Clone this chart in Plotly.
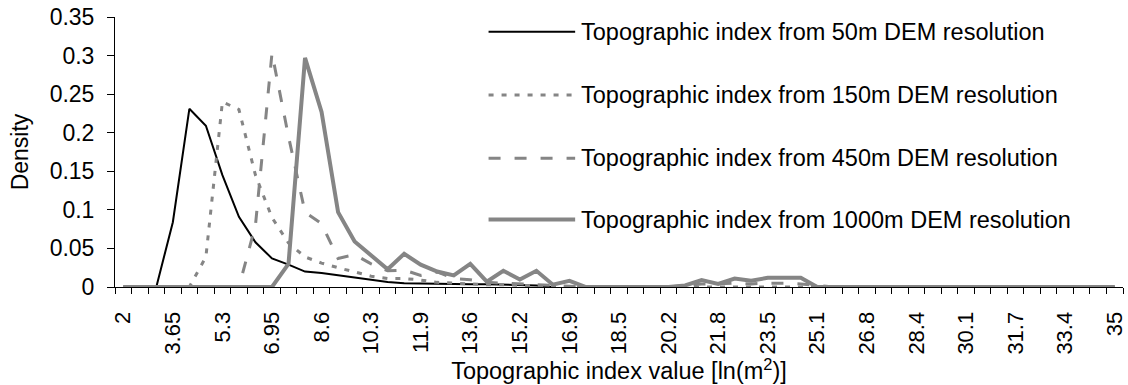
import plotly.graph_objects as go

# Topographic index bins (category values along the x axis)
ti_values = [2, 2.55, 3.1, 3.65, 4.2, 4.75, 5.3, 5.85, 6.4, 6.95,
             7.5, 8.05, 8.6, 9.15, 9.7, 10.25, 10.8, 11.35, 11.9, 12.45,
             13, 13.55, 14.1, 14.65, 15.2, 15.75, 16.3, 16.85, 17.4, 17.95,
             18.5, 19.05, 19.6, 20.15, 20.7, 21.25, 21.8, 22.35, 22.9, 23.45,
             24, 24.55, 25.1, 25.65, 26.2, 26.75, 27.3, 27.85, 28.4, 28.95,
             29.5, 30.05, 30.6, 31.15, 31.7, 32.25, 32.8, 33.35, 33.9, 34.45,
             35]

tick_labels = ["2", "3.65", "5.3", "6.95", "8.6", "10.3", "11.9", "13.6", "15.2",
               "16.9", "18.5", "20.2", "21.8", "23.5", "25.1", "26.8", "28.4",
               "30.1", "31.7", "33.4", "35"]

# Density of the topographic index for each DEM resolution
density_50m = [None, None, 0, 0.084, 0.231, 0.209, 0.145, 0.091, 0.058, 0.037,
               0.029, 0.020, 0.018, 0.015, 0.012, 0.009, 0.0065, 0.005, 0.0045, 0.004,
               0.004, 0.0035, 0.0035, 0.003, 0.003, 0.002, 0, None, None, None,
               None, None, None, None, None, None, None, None, None, None,
               None, None, None, None, None, None, None, None, None, None,
               None, None, None, None, None, None, None, None, None, None,
               None]

density_150m = [0, 0, 0, 0, 0, 0.039, 0.240, 0.230, 0.145, 0.090,
                0.057, 0.039, 0.031, 0.025, 0.019, 0.014, 0.011, 0.011, 0.009, 0.006,
                0.005, 0.004, 0.003, 0.003, 0.002, 0.002, 0.001, 0, 0, 0,
                0, 0, 0, 0, 0, 0, 0, 0, 0, 0,
                0, 0, 0, 0, 0, 0, 0, 0, 0, 0,
                0, 0, 0, 0, 0, 0, 0, 0, 0, 0,
                0]

density_450m = [0, 0, 0, 0, 0, 0, 0, 0, 0.080, 0.303,
                0.195, 0.097, 0.082, 0.037, 0.042, 0.030, 0.021, 0.022, 0.015, 0.0195,
                0.011, 0.0095, 0.006, 0.005, 0.004, 0.003, 0.002, 0.001, 0, 0,
                0, 0, 0, 0, 0.002, 0.004, 0.004, 0.005, 0.004, 0.005,
                0.005, 0.004, 0.002, 0, 0, 0, 0, 0, 0, 0,
                0, 0, 0, 0, 0, 0, 0, 0, 0, 0,
                0]

density_1000m = [0, 0, 0, 0, 0, 0, 0, 0, 0, 0,
                 0.030, 0.297, 0.227, 0.097, 0.059, 0.041, 0.023, 0.043, 0.029, 0.020,
                 0.015, 0.030, 0.007, 0.021, 0.0096, 0.021, 0.003, 0.008, 0, 0,
                 0, 0, 0, 0, 0.002, 0.009, 0.004, 0.011, 0.008, 0.012,
                 0.012, 0.012, 0, 0, 0, 0, 0, 0, 0, 0,
                 0, 0, 0, 0, 0, 0, 0, 0, 0, 0,
                 0]

series_names = ["Topographic index from 50m DEM resolution",
                "Topographic index from 150m DEM resolution",
                "Topographic index from 450m DEM resolution",
                "Topographic index from 1000m DEM resolution"]

FONT = "Liberation Sans, Arial, sans-serif"
GRAY = "#858585"

styles = [
    dict(color="black", width=2, dash="solid"),
    dict(color=GRAY, width=3, dash="5px,8px"),
    dict(color=GRAY, width=3, dash="12px,14px"),
    dict(color=GRAY, width=4, dash="solid"),
]

fig = go.Figure()
for name, ys, st in zip(series_names,
                        [density_50m, density_150m, density_450m, density_1000m],
                        styles):
    fig.add_trace(go.Scatter(x=ti_values, y=ys, mode="lines", name=name,
                             line=st, connectgaps=False, showlegend=False))

# Hand-drawn legend block with long line samples
legend_rows_y = [0.9456, 0.7111, 0.4767, 0.25]
for name, st, yy in zip(series_names, styles, legend_rows_y):
    fig.add_shape(type="line", xref="paper", yref="paper",
                  x0=0.3706, x1=0.4565, y0=yy, y1=yy,
                  line=dict(color=st["color"], width=st["width"], dash=st["dash"]))
    fig.add_annotation(xref="paper", yref="paper", x=0.4605, y=yy,
                       xanchor="left", yanchor="middle", showarrow=False,
                       text=name, font=dict(family=FONT, size=23.5, color="black"))

step = ti_values[1] - ti_values[0]
fig.update_xaxes(
    range=[ti_values[0] - step / 2, ti_values[-1] + step / 2],
    tickmode="array", tickvals=ti_values[::3], ticktext=tick_labels,
    tickangle=-90, ticks="", ticklabelstandoff=15, ticklabeloverflow="allow",
    tickfont=dict(family=FONT, size=22, color="black"),
    minor=dict(ticks="outside", ticklen=6, tickcolor="black", tickwidth=1,
               tick0=ti_values[0] - step / 2, dtick=step, showgrid=False),
    showline=True, linecolor="black", linewidth=1,
    showgrid=False, zeroline=False,
    title=dict(text="Topographic index value [ln(m<sup>2</sup>)]",
               font=dict(family=FONT, size=23.5, color="black"), standoff=6),
)
fig.update_yaxes(
    range=[0, 0.35], dtick=0.05, tick0=0,
    ticks="outside", ticklen=7, tickcolor="black",
    ticklabelstandoff=8,
    tickfont=dict(family=FONT, size=23, color="black"),
    showline=True, linecolor="black", linewidth=1,
    showgrid=False, zeroline=False,
    title=dict(text="Density", font=dict(family=FONT, size=23, color="black"),
               standoff=14),
)
fig.update_layout(
    width=1128, height=385,
    margin=dict(l=115, r=1, t=17, b=98),
    paper_bgcolor="white", plot_bgcolor="white",
    font=dict(family=FONT, color="black"),
)

fig.write_html("out.html")
